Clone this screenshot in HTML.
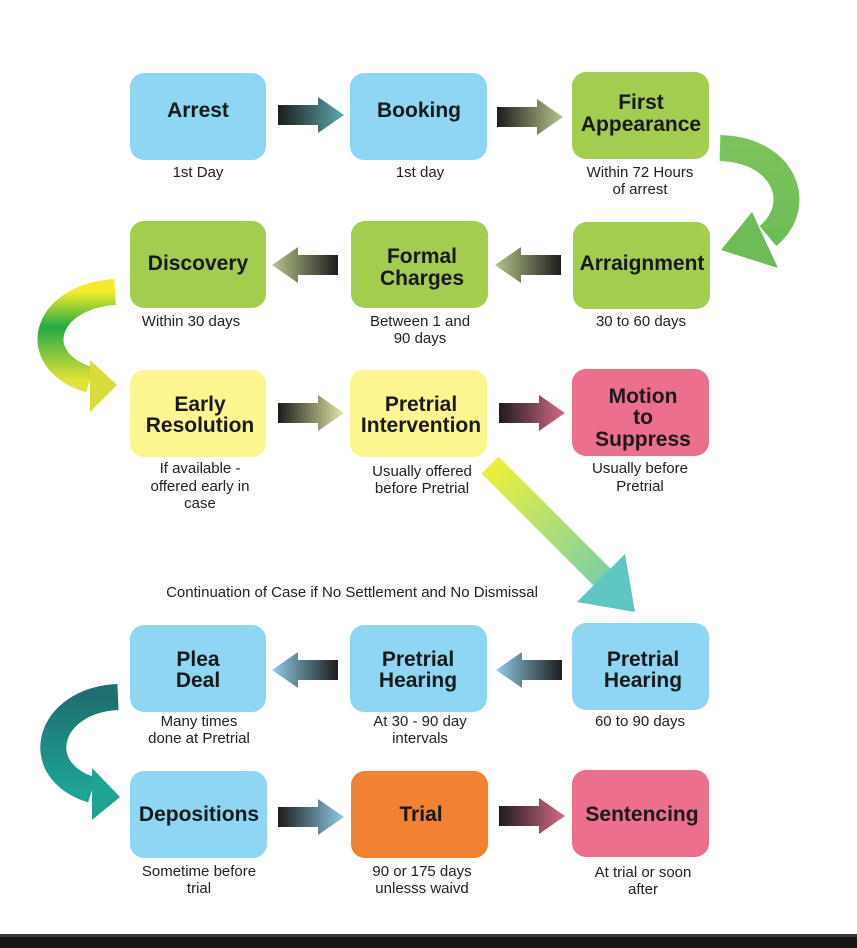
<!DOCTYPE html>
<html><head><meta charset="utf-8"><style>
body{margin:0;background:#fff;}
svg{display:block;}
text{font-family:"Liberation Sans",Arial,sans-serif;}
.t{font-weight:bold;font-size:21px;fill:#1a1a1a;text-anchor:middle;}
.c{font-size:15px;fill:#222;text-anchor:middle;}
</style></head><body>
<svg width="857" height="948" viewBox="0 0 857 948" xmlns="http://www.w3.org/2000/svg">
<defs>
<linearGradient id="gBlue" x1="0" x2="1"><stop offset="0" stop-color="#1c1c1c"/><stop offset="1" stop-color="#5aaab0"/></linearGradient>
<linearGradient id="gOl" x1="0" x2="1"><stop offset="0" stop-color="#1c1c1c"/><stop offset="1" stop-color="#b7c68c"/></linearGradient>
<linearGradient id="gYel" x1="0" x2="1"><stop offset="0" stop-color="#1c1c1c"/><stop offset="1" stop-color="#e6e8a6"/></linearGradient>
<linearGradient id="gPink" x1="0" x2="1"><stop offset="0" stop-color="#1c1c1c"/><stop offset="1" stop-color="#d96a86"/></linearGradient>
<linearGradient id="gLb" x1="0" x2="1"><stop offset="0" stop-color="#1c1c1c"/><stop offset="1" stop-color="#8fcbe6"/></linearGradient>
<linearGradient id="gCurveG" x1="0" y1="0" x2="0" y2="1"><stop offset="0" stop-color="#7dc25a"/><stop offset="1" stop-color="#6cbd57"/></linearGradient>
<linearGradient id="gCurveY" x1="0" y1="0" x2="0" y2="1"><stop offset="0" stop-color="#f2ec2a"/><stop offset="0.4" stop-color="#22aa44"/><stop offset="1" stop-color="#e0e23a"/></linearGradient>
<linearGradient id="gCurveT" x1="0" y1="0" x2="0" y2="1"><stop offset="0" stop-color="#1f6f70"/><stop offset="1" stop-color="#1fa394"/></linearGradient>
<linearGradient id="gDiag" x1="490" y1="465" x2="635" y2="612" gradientUnits="userSpaceOnUse"><stop offset="0" stop-color="#eef03a"/><stop offset="1" stop-color="#5ec7c2"/></linearGradient>
<g id="ar"><path d="M0,-10 L40,-10 L40,-18 L66,0 L40,18 L40,10 L0,10 Z"/></g>
</defs>

<!-- boxes -->
<g>
<rect x="130" y="73" width="136" height="87" rx="14" fill="#8fd6f4"/>
<rect x="350" y="73" width="137" height="87" rx="14" fill="#8fd6f4"/>
<rect x="572" y="72" width="137" height="87" rx="14" fill="#a3cd4e"/>
<rect x="130" y="221" width="136" height="87" rx="14" fill="#a3cd4e"/>
<rect x="351" y="221" width="137" height="87" rx="14" fill="#a3cd4e"/>
<rect x="573" y="222" width="137" height="87" rx="14" fill="#a3cd4e"/>
<rect x="130" y="370" width="136" height="87" rx="14" fill="#fdf58f"/>
<rect x="350" y="370" width="137" height="87" rx="14" fill="#fdf58f"/>
<rect x="572" y="369" width="137" height="87" rx="14" fill="#ec6f8e"/>
<rect x="130" y="625" width="136" height="87" rx="14" fill="#8fd6f4"/>
<rect x="350" y="625" width="137" height="87" rx="14" fill="#8fd6f4"/>
<rect x="572" y="623" width="137" height="87" rx="14" fill="#8fd6f4"/>
<rect x="130" y="771" width="137" height="87" rx="14" fill="#8fd6f4"/>
<rect x="351" y="771" width="137" height="87" rx="14" fill="#f08232"/>
<rect x="572" y="770" width="137" height="87" rx="14" fill="#ec6f8e"/>
</g>

<!-- straight arrows -->
<use href="#ar" transform="translate(278,115)" fill="url(#gBlue)"/>
<use href="#ar" transform="translate(497,117)" fill="url(#gOl)"/>
<use href="#ar" transform="translate(338,265) scale(-1,1)" fill="url(#gOl)"/>
<use href="#ar" transform="translate(561,265) scale(-1,1)" fill="url(#gOl)"/>
<use href="#ar" transform="translate(278,413)" fill="url(#gYel)"/>
<use href="#ar" transform="translate(499,413)" fill="url(#gPink)"/>
<use href="#ar" transform="translate(338,670) scale(-1,1)" fill="url(#gLb)"/>
<use href="#ar" transform="translate(562,670) scale(-1,1)" fill="url(#gLb)"/>
<use href="#ar" transform="translate(278,817)" fill="url(#gLb)"/>
<use href="#ar" transform="translate(499,816)" fill="url(#gPink)"/>

<!-- curved arrows -->
<path d="M720,148 C785,150 805,205 768,236" fill="none" stroke="url(#gCurveG)" stroke-width="26"/>
<path d="M752,212 L778,268 L721,250 Z" fill="#6cbd57"/>
<path d="M115,292 C45,296 25,360 90,380" fill="none" stroke="url(#gCurveY)" stroke-width="26"/>
<path d="M90,360 L90,412 L117,385 Z" fill="#d8dc38"/>
<path d="M118,697 C48,700 28,770 92,790" fill="none" stroke="url(#gCurveT)" stroke-width="26"/>
<path d="M92,768 L92,820 L120,797 Z" fill="#1fa394"/>
<path d="M490,465 L605,580" fill="none" stroke="url(#gDiag)" stroke-width="24"/>
<path d="M577,602 L625,554 L635,612 Z" fill="#5ec7c2"/>

<!-- titles -->
<text class="t" x="198" y="117">Arrest</text>
<text class="t" x="419" y="117">Booking</text>
<text class="t" x="641" y="109">First</text>
<text class="t" x="641" y="131">Appearance</text>
<text class="t" x="198" y="270">Discovery</text>
<text class="t" x="422" y="263">Formal</text>
<text class="t" x="422" y="285">Charges</text>
<text class="t" x="642" y="270">Arraignment</text>
<text class="t" x="200" y="411">Early</text>
<text class="t" x="200" y="432">Resolution</text>
<text class="t" x="421" y="411">Pretrial</text>
<text class="t" x="421" y="432">Intervention</text>
<text class="t" x="643" y="403">Motion</text>
<text class="t" x="643" y="424">to</text>
<text class="t" x="643" y="446">Suppress</text>
<text class="t" x="198" y="666">Plea</text>
<text class="t" x="198" y="687">Deal</text>
<text class="t" x="418" y="666">Pretrial</text>
<text class="t" x="418" y="687">Hearing</text>
<text class="t" x="643" y="666">Pretrial</text>
<text class="t" x="643" y="687">Hearing</text>
<text class="t" x="199" y="821">Depositions</text>
<text class="t" x="421" y="821">Trial</text>
<text class="t" x="642" y="821">Sentencing</text>

<!-- captions -->
<text class="c" x="198" y="177">1st Day</text>
<text class="c" x="420" y="177">1st day</text>
<text class="c" x="640" y="177">Within 72 Hours</text>
<text class="c" x="640" y="194">of arrest</text>
<text class="c" x="191" y="326">Within 30 days</text>
<text class="c" x="420" y="326">Between 1 and</text>
<text class="c" x="420" y="343">90 days</text>
<text class="c" x="641" y="326">30 to 60 days</text>
<text class="c" x="200" y="473">If available -</text>
<text class="c" x="200" y="491">offered early in</text>
<text class="c" x="200" y="508">case</text>
<text class="c" x="422" y="476">Usually offered</text>
<text class="c" x="422" y="493">before Pretrial</text>
<text class="c" x="640" y="473">Usually before</text>
<text class="c" x="640" y="491">Pretrial</text>
<text class="c" x="352" y="597">Continuation of Case if No Settlement and No Dismissal</text>
<text class="c" x="199" y="726">Many times</text>
<text class="c" x="199" y="743">done at Pretrial</text>
<text class="c" x="420" y="726">At 30 - 90 day</text>
<text class="c" x="420" y="743">intervals</text>
<text class="c" x="640" y="726">60 to 90 days</text>
<text class="c" x="199" y="876">Sometime before</text>
<text class="c" x="199" y="893">trial</text>
<text class="c" x="422" y="876">90 or 175 days</text>
<text class="c" x="422" y="893">unlesss waivd</text>
<text class="c" x="643" y="877">At trial or soon</text>
<text class="c" x="643" y="894">after</text>

<!-- bottom bar -->
<rect x="0" y="934" width="857" height="14" fill="#151515"/>
<rect x="0" y="934" width="857" height="3" fill="#3a3a3a"/>
</svg>
</body></html>
